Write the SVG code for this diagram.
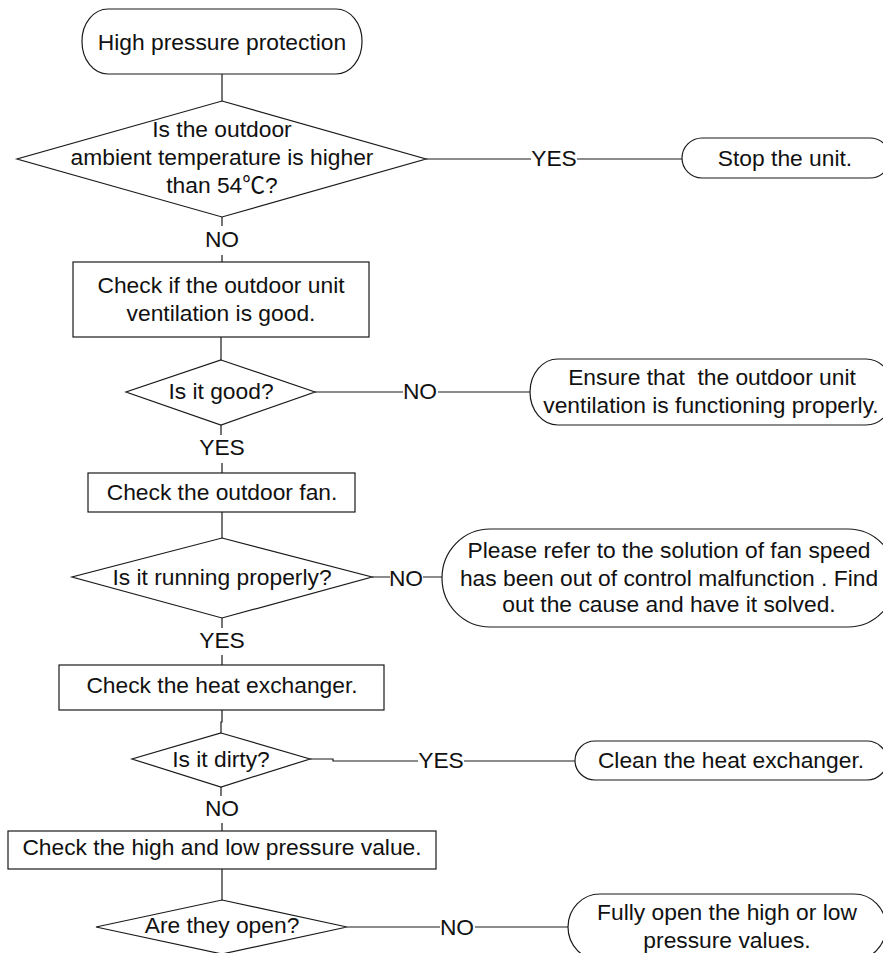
<svg xmlns="http://www.w3.org/2000/svg" width="883" height="953" viewBox="0 0 883 953">
<style>
.s{fill:#fff;stroke:#1a1a1a;stroke-width:1.2}
.c{fill:none;stroke:#1a1a1a;stroke-width:1.2}
text{font-family:"Liberation Sans",Arial,"Noto Sans CJK SC",sans-serif;font-size:22.8px;fill:#111;text-anchor:middle}
</style>
<rect width="883" height="953" fill="#fff"/>
<g id="connectors">
<path class="c" d="M222 74V101"/>
<path class="c" d="M222 217V226M222 255V262"/>
<path class="c" d="M426 159H531M577 159H682"/>
<path class="c" d="M221 337V360"/>
<path class="c" d="M315 392H403M438 392H530"/>
<path class="c" d="M221 425V435M222 463V473"/>
<path class="c" d="M222 512V538"/>
<path class="c" d="M372 577H390M423 577H442"/>
<path class="c" d="M222 618V628M222 655V665"/>
<path class="c" d="M222 710V722H221V733"/>
<path class="c" d="M310 759H333V761H418M464 761H575"/>
<path class="c" d="M221 787V796M222 823V831"/>
<path class="c" d="M222 869V900"/>
<path class="c" d="M347 927H440M475 927H568"/>
</g>
<g id="n_start"><rect class="s" x="82" y="9" width="280" height="65" rx="26" ry="32"/><text x="222" y="50">High pressure protection</text></g>
<g id="n_d1"><polygon class="s" points="222,101 426,159 222,217 17,159"/><text x="222" y="137">Is the outdoor</text><text x="222" y="165">ambient temperature is higher</text><text x="222" y="193">than 54℃?</text></g>
<g id="l_no1"><text x="222" y="247">NO</text></g>
<g id="l_yes1"><text x="554" y="166">YES</text></g>
<g id="n_stop"><rect class="s" x="682" y="138" width="208" height="40" rx="20" ry="20"/><text x="785" y="166">Stop the unit.</text></g>
<g id="n_box1"><rect class="s" x="73" y="262" width="296" height="75"/><text x="221" y="293">Check if the outdoor unit</text><text x="221" y="321">ventilation is good.</text></g>
<g id="n_d2"><polygon class="s" points="221,360 315,392 221,425 126,392"/><text x="221" y="399">Is it good?</text></g>
<g id="l_no2"><text x="420" y="399">NO</text></g>
<g id="n_ensure"><rect class="s" x="530" y="359" width="364" height="66" rx="28" ry="33"/><text x="712" y="385" style="white-space:pre">Ensure that  the outdoor unit</text><text x="711" y="413">ventilation is functioning properly.</text></g>
<g id="l_yes2"><text x="222" y="455">YES</text></g>
<g id="n_box2"><rect class="s" x="88" y="473" width="267" height="39"/><text x="222" y="500">Check the outdoor fan.</text></g>
<g id="n_d3"><polygon class="s" points="222,538 372,577 222,618 72,577"/><text x="222" y="585">Is it running properly?</text></g>
<g id="l_no3"><text x="406" y="586">NO</text></g>
<g id="n_refer"><rect class="s" x="442" y="529" width="454" height="98" rx="48" ry="49"/><text x="669" y="558">Please refer to the solution of fan speed</text><text x="669" y="586">has been out of control malfunction . Find</text><text x="669" y="612">out the cause and have it solved.</text></g>
<g id="l_yes3"><text x="222" y="648">YES</text></g>
<g id="n_box3"><rect class="s" x="59" y="665" width="325" height="45"/><text x="222" y="693">Check the heat exchanger.</text></g>
<g id="n_d4"><polygon class="s" points="221,733 310,759 221,787 132,759"/><text x="221" y="767">Is it dirty?</text></g>
<g id="l_yes4"><text x="441" y="768">YES</text></g>
<g id="n_clean"><rect class="s" x="575" y="741" width="312" height="39" rx="20" ry="19.5"/><text x="731" y="768">Clean the heat exchanger.</text></g>
<g id="l_no4"><text x="222" y="816">NO</text></g>
<g id="n_box4"><rect class="s" x="8" y="831" width="428" height="38"/><text x="222" y="855">Check the high and low pressure value.</text></g>
<g id="n_d5"><polygon class="s" points="222,900 347,927 222,954 96,927"/><text x="222" y="933">Are they open?</text></g>
<g id="l_no5"><text x="457" y="935">NO</text></g>
<g id="n_fully"><rect class="s" x="568" y="894" width="318" height="66" rx="32" ry="33"/><text x="727" y="920">Fully open the high or low</text><text x="727" y="948">pressure values.</text></g>
</svg>
